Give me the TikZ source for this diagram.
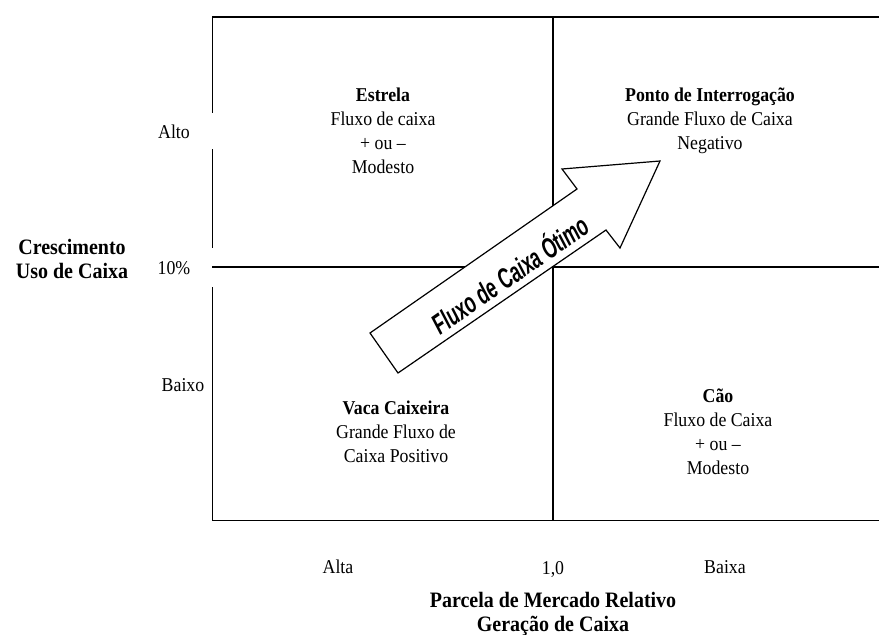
\documentclass[tikz,border=0pt]{standalone}
\usepackage{graphicx}
\usepackage{fontspec}
\setmainfont{Liberation Serif}
\newfontfamily\arialfont{Liberation Sans}
\newcommand{\mystack}[1]{\scalebox{1}[1.1]{\begin{tabular}{@{}c@{}}#1\end{tabular}}}
\begin{document}
\begin{tikzpicture}[x=1pt,y=-1pt,
  frame/.style={line width=1.5pt, line cap=rect},
  txt/.style={align=center, inner sep=0pt, font=\fontsize{17.8}{21.8}\selectfont},
  axistitle/.style={align=center, inner sep=0pt, font=\bfseries\fontsize{20}{21.8}\selectfont},
  bigarrow/.style={draw=black, fill=white, line width=1.2pt, line join=miter},
  arrowlabel/.style={inner sep=0pt, font=\arialfont\bfseries\itshape\fontsize{19}{19}\selectfont}]
\useasboundingbox (0,0) rectangle (879,635);
% frame (left border broken by the label boxes)
\draw[frame] (212.5,17) -- (879,17);
\draw[frame] (212.5,520.5) -- (879,520.5);
\draw[frame] (553,17) -- (553,520.5);
\draw[frame] (213,267) -- (879,267);
\draw[frame] (212.5,17) -- (212.5,112);
\draw[frame] (212.5,150) -- (212.5,247);
\draw[frame] (212.5,288) -- (212.5,520.5);
% quadrant texts
\node[txt] (estrela) at (383,132.5) {\mystack{\textbf{Estrela}\\Fluxo de caixa\\+ ou –\\Modesto}};
\node[txt] (ponto) at (710,120.5) {\mystack{\textbf{Ponto de Interrogação}\\Grande Fluxo de Caixa\\Negativo}};
\node[txt] (cao) at (718,434) {\mystack{\textbf{Cão}\\Fluxo de Caixa\\+ ou –\\Modesto}};
\node[txt] (vaca) at (396,434) {\mystack{\textbf{Vaca Caixeira}\\Grande Fluxo de\\Caixa Positivo}};
% axis labels
\node[txt] (alto) at (174,134) {\mystack{Alto}};
\node[txt] (dez) at (174,270) {\mystack{10\%}};
\node[txt] (baixo) at (183,387) {\mystack{Baixo}};
\node[axistitle] (cresc) at (72,261.5) {\mystack{Crescimento\\Uso de Caixa}};
\node[txt] (alta) at (338,569) {\mystack{Alta}};
\node[txt] (um) at (553,570) {\mystack{1,0}};
\node[txt] (baixa) at (725,569) {\mystack{Baixa}};
\node[axistitle] (parcela) at (553,615) {\mystack{Parcela de Mercado Relativo\\Geração de Caixa}};
% big arrow
\coordinate (a1) at (370,333);
\coordinate (a2) at (398,373);
\coordinate (a3) at (606,230);
\coordinate (a4) at (620,248);
\coordinate (a5) at (660,161);
\coordinate (a6) at (562,169);
\coordinate (a7) at (577,189);
\draw[bigarrow] (a1) -- (a2) -- (a3) -- (a4) -- (a5) -- (a6) -- (a7) -- cycle;
\node[arrowlabel, rotate=34.6] (fluxo) at (509,273) {\scalebox{0.95}[1.5]{Fluxo de Caixa Ótimo}};
\end{tikzpicture}
\end{document}
